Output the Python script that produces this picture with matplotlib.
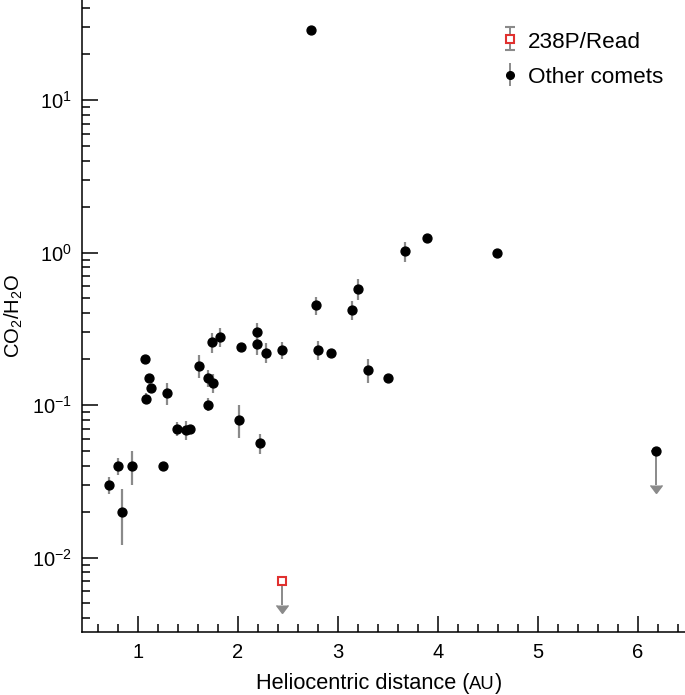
import numpy as np
import matplotlib
matplotlib.use("Agg")
import matplotlib.pyplot as plt
from matplotlib.ticker import LogLocator, MultipleLocator, NullFormatter, FixedLocator

plt.rcParams['font.family'] = ['Liberation Sans', 'DejaVu Sans']
plt.rcParams['mathtext.default'] = 'regular'
plt.rcParams['axes.unicode_minus'] = True

# ---------------- data ----------------
# Other comets (heliocentric distance AU, CO2/H2O, error-bar low/high; nan = no bar)
other_x = [0.71, 0.80, 0.84, 0.94, 1.25, 1.07, 1.08, 1.11, 1.13, 1.29, 1.39, 1.48, 1.52,
           1.61, 1.70, 1.75, 1.70, 1.74, 1.82, 2.01, 2.03, 2.19, 2.19, 2.22, 2.28, 2.44,
           2.80, 2.93, 3.30, 3.50, 3.14, 3.20, 2.78, 3.67, 3.89, 4.59, 2.73]
other_y = [0.030, 0.040, 0.020, 0.040, 0.040, 0.20, 0.11, 0.15, 0.13, 0.12, 0.070, 0.069, 0.070,
           0.18, 0.15, 0.14, 0.10, 0.26, 0.28, 0.080, 0.24, 0.30, 0.25, 0.056, 0.22, 0.23,
           0.23, 0.22, 0.17, 0.15, 0.42, 0.58, 0.45, 1.02, 1.25, 1.00, 29.0]
other_lo = [0.026, 0.035, 0.012, 0.030, np.nan, np.nan, 0.101, np.nan, 0.123, 0.100, 0.063, 0.059, np.nan,
            0.151, 0.132, 0.120, 0.091, 0.220, 0.241, 0.061, np.nan, 0.265, 0.213, 0.048, 0.188, 0.200,
            0.197, np.nan, 0.140, np.nan, 0.361, 0.488, 0.389, 0.870, np.nan, np.nan, np.nan]
other_hi = [0.034, 0.045, 0.028, 0.050, np.nan, np.nan, 0.120, np.nan, 0.137, 0.140, 0.078, 0.079, np.nan,
            0.212, 0.170, 0.160, 0.111, 0.298, 0.318, 0.100, np.nan, 0.343, 0.281, 0.0645, 0.254, 0.259,
            0.264, np.nan, 0.200, np.nan, 0.481, 0.667, 0.513, 1.166, np.nan, np.nan, np.nan]

# Other comet with upper limit only (value, and where the arrow shaft ends)
limit_x = [6.18]
limit_y = [0.050]
limit_end = [0.0299]
limit_xerr = [0.05]

# 238P/Read upper limit
read_x = [2.44]
read_y = [0.0070]
read_end = [0.00488]

x_ticks = [1, 2, 3, 4, 5, 6]
x_ticklabels = ['1', '2', '3', '4', '5', '6']

GRAY = '#8a8a8a'
RED = '#e0312f'

# ---------------- figure ----------------
W, H = 685, 695
fig = plt.figure(figsize=(W / 100, H / 100), dpi=100)
ax = fig.add_axes([82 / W, 1 - 632 / H, 1 - 82 / W, 632 / H])
ax.set_yscale('log')

oy = np.array(other_y)
lo = np.where(np.isnan(other_lo), oy, other_lo)
hi = np.where(np.isnan(other_hi), oy, other_hi)
yerr = np.vstack([oy - lo, hi - oy])

ax.errorbar(other_x, other_y, yerr=yerr, fmt='o', color='black', ms=6.4,
            ecolor=GRAY, elinewidth=1.6, capsize=0, zorder=3)


def limit_arrow(xs, ys, ends, xerr=None):
    yv = np.array(ys)
    c = ax.errorbar(xs, ys, yerr=[yv - np.array(ends), np.zeros_like(yv)], xerr=xerr,
                    uplims=True, fmt='none', ecolor=GRAY, color=GRAY,
                    elinewidth=1.4, capsize=0, zorder=2.5)
    for cl in c[1]:
        cl.set_markersize(8)
        cl.set_color(GRAY)
        cl.set_markeredgecolor(GRAY)
        cl.set_markerfacecolor(GRAY)
    return c


limit_arrow(limit_x, limit_y, limit_end, xerr=limit_xerr)
ax.plot(limit_x, limit_y, 'o', color='black', ms=6.4, zorder=3)

limit_arrow(read_x, read_y, read_end)
ax.plot(read_x, read_y, 's', ms=6.4, mfc='white', mec=RED, mew=1.5, zorder=4)

# legend proxies
h1 = ax.errorbar([np.nan], [np.nan], yerr=[1], fmt='s', ms=6.2, mfc='white', mec=RED, mew=1.5,
                 ecolor=GRAY, elinewidth=1.4, capsize=3.5, capthick=1.4, label='238P/Read')
h2 = ax.errorbar([np.nan], [np.nan], yerr=[1], fmt='o', ms=5.5, color='black',
                 ecolor=GRAY, elinewidth=1.4, capsize=0, label='Other comets')
leg = ax.legend(handles=[h1, h2], loc='upper left', bbox_to_anchor=(0.686, 0.967),
                frameon=False, fontsize=16.2, handlelength=0.5, handletextpad=0.55,
                labelspacing=0.58, borderaxespad=0.0, handleheight=1.0)

ax.set_xlim(0.44, 6.47)
ax.set_ylim(0.00325, 45.3)

ax.xaxis.set_major_locator(FixedLocator(x_ticks))
ax.set_xticklabels(x_ticklabels)
ax.xaxis.set_minor_locator(MultipleLocator(0.2))
ax.yaxis.set_major_locator(LogLocator(base=10, numticks=20))
ax.yaxis.set_minor_locator(LogLocator(base=10, subs=np.arange(2, 10), numticks=100))
ax.yaxis.set_minor_formatter(NullFormatter())

for s in ['top', 'right']:
    ax.spines[s].set_visible(False)
for s in ['left', 'bottom']:
    ax.spines[s].set_linewidth(1.1)

ax.tick_params(which='major', direction='in', length=11.5, width=1.1, labelsize=14.5, pad=8)
ax.tick_params(which='minor', direction='in', length=6, width=1.1)
ax.tick_params(axis='y', which='major', pad=7)

ax.set_ylabel(r'CO$_2$/H$_2$O', fontsize=14.6, labelpad=5)

# x label with small-caps "AU"
fs_big, fs_small = 15.7, 13.3
base_y = 6 / H
parts = [('Heliocentric distance (', fs_big), ('AU', fs_small), (')', fs_big)]
texts = [fig.text(0, base_y, s, fontsize=f, va='baseline', ha='left') for s, f in parts]
fig.canvas.draw()
r = fig.canvas.get_renderer()
widths = [t.get_window_extent(r).width for t in texts]
total = sum(widths)
x0 = 379 - total / 2
for t, w in zip(texts, widths):
    t.set_x(x0 / W)
    x0 += w

fig.savefig('out.png', dpi=100)
